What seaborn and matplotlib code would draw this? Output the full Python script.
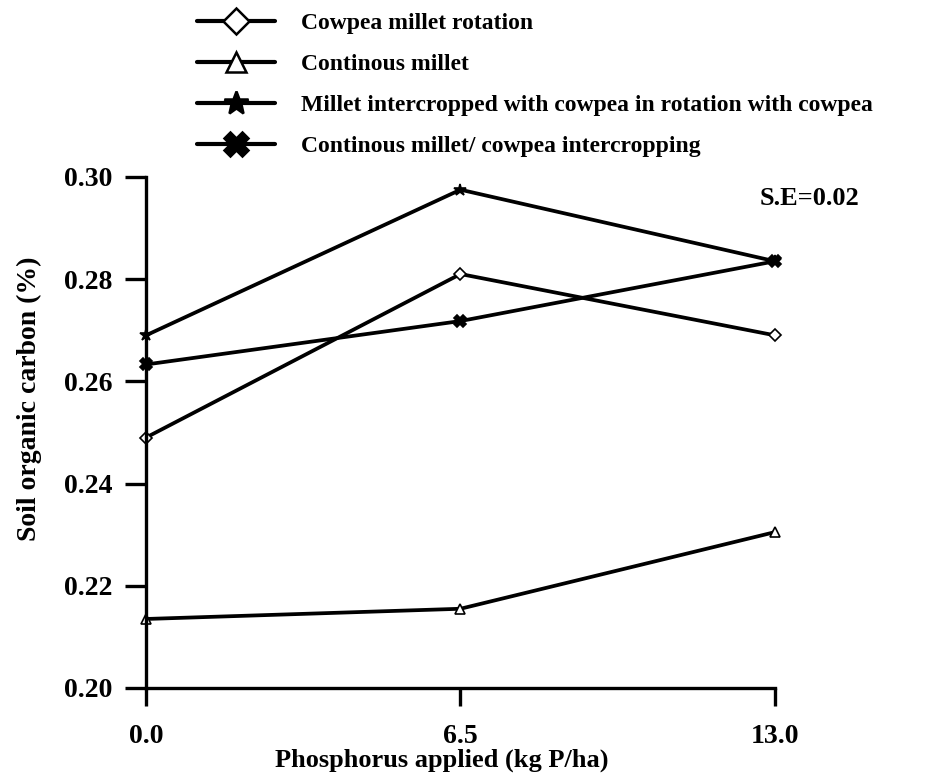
import matplotlib
matplotlib.use("Agg")
import matplotlib.pyplot as plt
from matplotlib.lines import Line2D
import seaborn as sns
import pandas as pd

sns.set_style("ticks")
plt.rcParams["font.family"] = ["Liberation Serif", "DejaVu Serif"]
plt.rcParams["font.weight"] = "bold"
for key in ["text.color", "axes.labelcolor", "xtick.color", "ytick.color",
            "axes.edgecolor"]:
    plt.rcParams[key] = "black"

# Phosphorus rates (kg P/ha)
phosphorus = [0.0, 6.5, 13.0]

# Soil organic carbon (%) by cropping system
cowpea_millet_rotation = [0.249, 0.281, 0.269]
continuous_millet = [0.2135, 0.2155, 0.2305]
intercrop_rotation = [0.269, 0.2975, 0.2835]
continuous_intercrop = [0.2633, 0.2718, 0.2835]

series_names = [
    "Cowpea millet rotation",
    "Continous millet",
    "Millet intercropped with cowpea in rotation with cowpea",
    "Continous millet/ cowpea intercropping",
]
series_values = [cowpea_millet_rotation, continuous_millet,
                 intercrop_rotation, continuous_intercrop]

x_ticks = [0.0, 6.5, 13.0]
x_tick_labels = ["0.0", "6.5", "13.0"]
y_ticks = [0.20, 0.22, 0.24, 0.26, 0.28, 0.30]
y_tick_labels = ["0.20", "0.22", "0.24", "0.26", "0.28", "0.30"]

rows = []
for name, vals in zip(series_names, series_values):
    for p, v in zip(phosphorus, vals):
        rows.append({"P": p, "SOC": v, "system": name})
df = pd.DataFrame(rows)

# marker, face colour, size on the lines, size in the key
marker_styles = {
    series_names[0]: ("D", "white", 6, 13),
    series_names[1]: ("^", "white", 7, 15),
    series_names[2]: ("*", "black", 9, 18),
    series_names[3]: ("X", "black", 8, 17),
}

fig = plt.figure(figsize=(9.27, 7.75), dpi=100)
ax = fig.add_axes([0.1575, 0.1123, 0.6785, 0.6594])

for name in series_names:
    mk, face, size, _ = marker_styles[name]
    sub = df[df["system"] == name]
    sns.lineplot(data=sub, x="P", y="SOC", ax=ax, color="black",
                 linewidth=2.7, marker=mk, markersize=size,
                 markerfacecolor=face, markeredgecolor="black",
                 markeredgewidth=1.2, clip_on=False, legend=False)

ax.set_xlim(0, 13)
ax.set_ylim(0.20, 0.30)
ax.set_xticks(x_ticks)
ax.set_xticklabels(x_tick_labels, fontsize=20, fontweight="bold")
ax.set_yticks(y_ticks)
ax.set_yticklabels(y_tick_labels, fontsize=20, fontweight="bold")
ax.tick_params(axis="y", length=15, width=2.4, pad=9)
ax.tick_params(axis="x", length=13, width=2.4, pad=13)
for side in ["top", "right"]:
    ax.spines[side].set_visible(False)
for side in ["left", "bottom"]:
    ax.spines[side].set_linewidth(2.4)

ax.set_xlabel("Phosphorus applied (kg P/ha)", fontsize=19, fontweight="bold")
ax.xaxis.set_label_coords(0.47, -0.119)
ax.set_ylabel("Soil organic carbon (%)", fontsize=20, fontweight="bold")
ax.yaxis.set_label_coords(-0.165, 0.565)

ax.text(0.975, 0.957, "S.E=0.02", transform=ax.transAxes, fontsize=19,
        fontweight="bold", ha="left", va="center")

handles = []
for name in series_names:
    mk, face, _, key_size = marker_styles[name]
    handles.append(Line2D([], [], color="black", linewidth=3.0, marker=mk,
                          markersize=key_size, markerfacecolor=face,
                          markeredgecolor="black", markeredgewidth=1.8))
fig.legend(handles, series_names, loc="upper left",
           bbox_to_anchor=(0.1946, 1.005), frameon=False,
           prop={"weight": "bold", "size": 17},
           handlelength=3.3, handletextpad=1.1, labelspacing=0.82,
           borderaxespad=0.3)

fig.savefig("out.png", dpi=100)
